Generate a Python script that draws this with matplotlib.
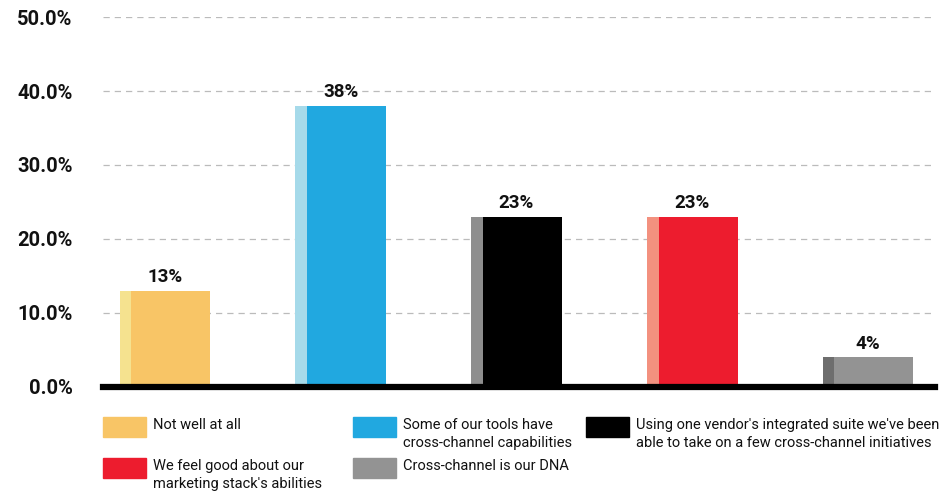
import matplotlib.pyplot as plt
from matplotlib.patches import Rectangle

categories = ["Not well at all",
              "Some of our tools have\ncross-channel capabilities",
              "Using one vendor's integrated suite we've been\nable to take on a few cross-channel initiatives",
              "We feel good about our\nmarketing stack's abilities",
              "Cross-channel is our DNA"]
values = [13, 38, 23, 23, 4]
labels = ["13%", "38%", "23%", "23%", "4%"]
colors = ["#F8C566", "#21A8E0", "#000000", "#ED1C2E", "#939393"]
edge_colors = ["#F5E28F", "#A6DAEA", "#8E8E8E", "#F3917F", "#6E6E6E"]
yticks = [0, 10, 20, 30, 40, 50]

plt.rcParams['font.family'] = ['Roboto', 'DejaVu Sans']

fig = plt.figure(figsize=(9.51, 4.96), dpi=100)
ax = fig.add_axes([0.1083, 0.2198, 0.983 - 0.1083, 0.9657 - 0.2198])

width = 0.515
strip = 0.066
for i, v in enumerate(values):
    left = i - width / 2
    ax.bar(left, v, width=width, align='edge', color=edge_colors[i], zorder=2)
    ax.bar(left + strip, v, width=width - strip, align='edge', color=colors[i], zorder=3)
    ax.text(i, v + 0.6, labels[i], ha='center', va='bottom',
            fontsize=13.5, fontweight='bold', color='#111111')

ax.set_xlim(-0.352, 4.38)
ax.set_ylim(0, 50)
ax.set_yticks(yticks)
ax.set_yticklabels(["%.1f%%" % t for t in yticks], fontsize=14.5, fontweight='bold', color='#111111')
ax.tick_params(axis='y', length=0, pad=22)
ax.set_xticks([])
ax.grid(axis='y', color='#BBBBBB', linestyle=(0, (5, 4)), linewidth=0.9, zorder=0)
for s in ['top', 'right', 'left']:
    ax.spines[s].set_visible(False)
ax.spines['bottom'].set_linewidth(4.5)
ax.spines['bottom'].set_color('black')
ax.spines['bottom'].set_zorder(5)

# legend laid out by hand in a 3-column grid
W, H = 951.0, 496.0
slots = [(103, 417), (353, 417), (586, 417), (103, 458), (353, 458)]
for (px, py), c, name in zip(slots, colors, categories):
    fig.add_artist(Rectangle((px / W, 1 - (py + 20) / H), 43 / W, 20 / H,
                             transform=fig.transFigure, color=c))
    fig.text((px + 50) / W, 1 - (py + 1) / H, name, ha='left', va='top',
             fontsize=10.5, color='#111111', linespacing=1.4)

fig.savefig("out.png", dpi=100)
